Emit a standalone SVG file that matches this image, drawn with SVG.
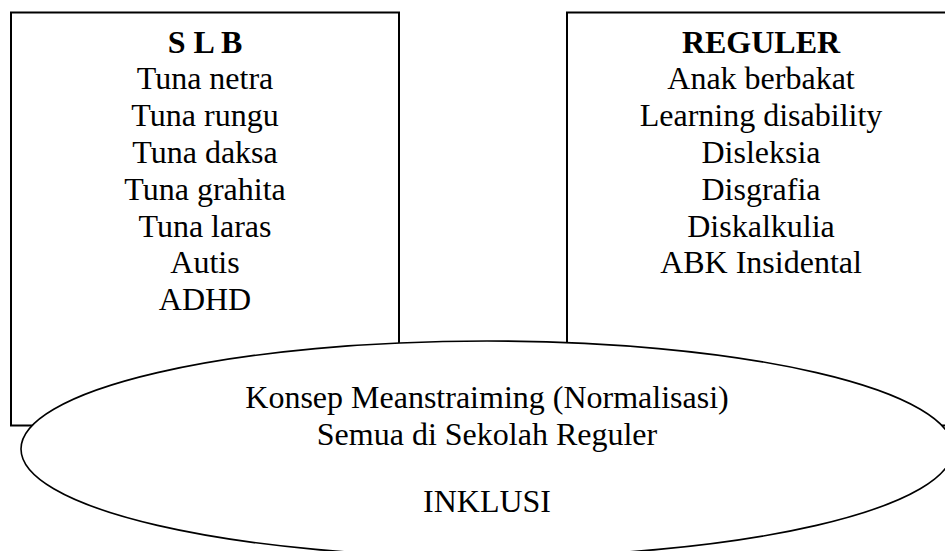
<svg xmlns="http://www.w3.org/2000/svg" width="945" height="551" viewBox="0 0 945 551">
<style>
.box{fill:#fff;stroke:#000;stroke-width:2}
.ell{fill:#fff;stroke:#000;stroke-width:1.6}
text{font-family:"Liberation Serif","Times New Roman",serif;font-size:32px;fill:#000;text-anchor:middle}
.b{font-weight:bold}
</style>
<g id="slb">
<rect class="box" x="11" y="12.5" width="388" height="413"/>
<text x="205" y="53" class="b">S L B</text>
<text x="205" y="89">Tuna netra</text>
<text x="205" y="126">Tuna rungu</text>
<text x="205" y="163">Tuna daksa</text>
<text x="205" y="200">Tuna grahita</text>
<text x="205" y="237">Tuna laras</text>
<text x="205" y="273">Autis</text>
<text x="205" y="310">ADHD</text>
</g>
<g id="reguler">
<rect class="box" x="567" y="12.5" width="400" height="413"/>
<text x="761" y="53" class="b">REGULER</text>
<text x="761" y="89">Anak berbakat</text>
<text x="761" y="126">Learning disability</text>
<text x="761" y="163">Disleksia</text>
<text x="761" y="200">Disgrafia</text>
<text x="761" y="237">Diskalkulia</text>
<text x="761" y="273">ABK Insidental</text>
</g>
<g id="inklusi">
<ellipse class="ell" cx="487" cy="449" rx="466" ry="108"/>
<text x="487" y="408">Konsep Meanstraiming (Normalisasi)</text>
<text x="487" y="445">Semua di Sekolah Reguler</text>
<text x="487" y="512">INKLUSI</text>
</g>
<g id="connectors"></g>
</svg>
